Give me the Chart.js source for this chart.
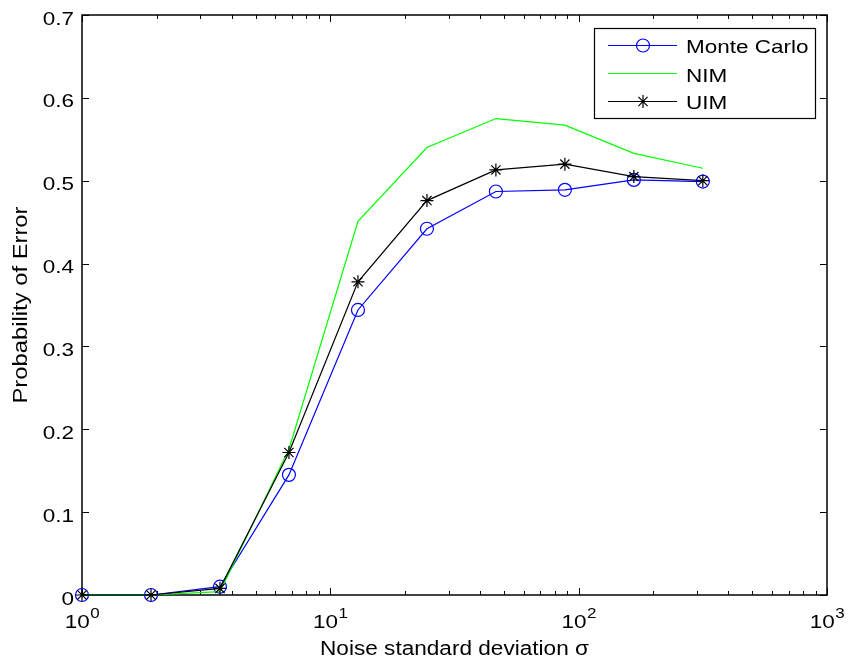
<!DOCTYPE html>
<html>
<head>
<meta charset="utf-8">
<title>Probability of Error vs noise</title>
<script src="https://cdn.jsdelivr.net/npm/chart.js@4/dist/chart.umd.min.js"></script>
<style>
  html, body { margin: 0; padding: 0; background: #fff; }
  #wrap { width: 848px; height: 665px; }
</style>
</head>
<body>
<div id="wrap"><canvas id="errChart" width="848" height="665"></canvas></div>
<script>
// noise levels (log spaced) and error probabilities per method
const sigma = [1, 1.896, 3.594, 6.813, 12.92, 24.49, 46.42, 88.01, 166.8, 316.2];
const monteCarlo = [0, 0, 0.010, 0.145, 0.344, 0.442, 0.487, 0.489, 0.501, 0.499];
const nim = [0, 0, 0.004, 0.176, 0.451, 0.540, 0.575, 0.567, 0.533, 0.515];
const uim = [0, 0, 0.008, 0.172, 0.378, 0.476, 0.513, 0.520, 0.505, 0.500];

const yTicks = [0, 0.1, 0.2, 0.3, 0.4, 0.5, 0.6, 0.7];
const yTickLabels = ['0', '0.1', '0.2', '0.3', '0.4', '0.5', '0.6', '0.7'];
const xDecades = [1, 10, 100, 1000];
const xExponents = ['0', '1', '2', '3'];

const FONT = '"Liberation Sans", Arial, Helvetica, sans-serif';

function toPoints(values) {
  return values.map((v, i) => ({ x: sigma[i], y: v }));
}

// text squashed vertically a bit, like the exported figure
function drawText(ctx, str, x, y, size, align, sy) {
  ctx.save();
  ctx.translate(x, y);
  ctx.scale(1, sy);
  ctx.font = size + 'px ' + FONT;
  ctx.textAlign = align;
  ctx.textBaseline = 'alphabetic';
  ctx.fillStyle = '#000';
  ctx.fillText(str, 0, 0);
  ctx.restore();
}

function drawCircleMarker(ctx, x, y, r, color) {
  ctx.beginPath();
  ctx.arc(x, y, r, 0, Math.PI * 2);
  ctx.strokeStyle = color;
  ctx.lineWidth = 1.2;
  ctx.stroke();
}

function drawStarMarker(ctx, x, y, r, color) {
  ctx.beginPath();
  const d = r * Math.SQRT1_2;
  ctx.moveTo(x - r, y); ctx.lineTo(x + r, y);
  ctx.moveTo(x, y - r); ctx.lineTo(x, y + r);
  ctx.moveTo(x - d, y - d); ctx.lineTo(x + d, y + d);
  ctx.moveTo(x - d, y + d); ctx.lineTo(x + d, y - d);
  ctx.strokeStyle = color;
  ctx.lineWidth = 1.2;
  ctx.stroke();
}

const axesPlugin = {
  id: 'matlabAxes',
  beforeDatasetsDraw(chart) {
    const { ctx, chartArea: a, scales } = chart;
    const xs = scales.x, ys = scales.y;
    ctx.save();
    ctx.strokeStyle = '#000';
    ctx.lineWidth = 1;

    // y ticks, left and right, pointing inwards
    ctx.beginPath();
    yTicks.forEach(t => {
      const py = Math.round(ys.getPixelForValue(t)) + 0.5;
      ctx.moveTo(a.left, py); ctx.lineTo(a.left + 7, py);
      ctx.moveTo(a.right, py); ctx.lineTo(a.right - 7, py);
    });
    // x major and minor ticks, bottom and top
    xDecades.forEach((d, i) => {
      const px = Math.round(xs.getPixelForValue(d)) + 0.5;
      ctx.moveTo(px, a.bottom); ctx.lineTo(px, a.bottom - 7);
      ctx.moveTo(px, a.top); ctx.lineTo(px, a.top + 7);
      if (i < xDecades.length - 1) {
        for (let m = 2; m <= 9; m++) {
          const mx = Math.round(xs.getPixelForValue(m * d)) + 0.5;
          ctx.moveTo(mx, a.bottom); ctx.lineTo(mx, a.bottom - 4);
          ctx.moveTo(mx, a.top); ctx.lineTo(mx, a.top + 4);
        }
      }
    });
    ctx.stroke();

    // box
    ctx.lineWidth = 1.5;
    ctx.strokeRect(a.left, a.top, a.right - a.left, a.bottom - a.top);

    // y tick labels
    yTicks.forEach((t, i) => {
      const py = ys.getPixelForValue(t);
      drawText(ctx, yTickLabels[i], 74, py + 9.5, 22.5, 'right', 0.82);
    });

    // x tick labels 10^n
    xDecades.forEach((d, i) => {
      const px = xs.getPixelForValue(d);
      ctx.font = '22.5px ' + FONT;
      const wBase = ctx.measureText('10').width;
      ctx.font = '17px ' + FONT;
      const wExp = ctx.measureText(xExponents[i]).width;
      const left = px - (wBase + wExp) / 2;
      drawText(ctx, '10', left, 628, 22.5, 'left', 0.82);
      drawText(ctx, xExponents[i], left + wBase + 0.5, 618, 17, 'left', 0.82);
    });

    // axis titles
    drawText(ctx, 'Noise standard deviation \u03c3', (a.left + a.right) / 2, 655, 22.6, 'center', 0.9);
    ctx.save();
    ctx.translate(27, (a.top + a.bottom) / 2);
    ctx.rotate(-Math.PI / 2);
    ctx.scale(1, 0.88);
    ctx.font = '23.8px ' + FONT;
    ctx.textAlign = 'center';
    ctx.textBaseline = 'alphabetic';
    ctx.fillStyle = '#000';
    ctx.fillText('Probability of Error', 0, 0);
    ctx.restore();

    ctx.restore();
  },
  afterDraw(chart) {
    const { ctx } = chart;
    ctx.save();
    // legend box
    ctx.fillStyle = '#fff';
    ctx.fillRect(594, 28, 221, 90);
    ctx.strokeStyle = '#000';
    ctx.lineWidth = 1.2;
    ctx.strokeRect(594.5, 28.5, 221, 90);

    const entries = [
      { label: 'Monte Carlo', color: '#0000ff', marker: 'circle', ly: 45.5, ty: 52.5 },
      { label: 'NIM', color: '#00ff00', marker: null, ly: 73.5, ty: 81.5 },
      { label: 'UIM', color: '#000000', marker: 'star', ly: 101.5, ty: 108.5 }
    ];
    entries.forEach(e => {
      ctx.beginPath();
      ctx.moveTo(608, e.ly); ctx.lineTo(677, e.ly);
      ctx.strokeStyle = e.color;
      ctx.lineWidth = 1.2;
      ctx.stroke();
      if (e.marker === 'circle') drawCircleMarker(ctx, 643, e.ly, 6.5, e.color);
      if (e.marker === 'star') drawStarMarker(ctx, 643, e.ly, 6.5, e.color);
      drawText(ctx, e.label, 686, e.ty, 22.5, 'left', 0.82);
    });
    ctx.restore();
  }
};

const ctx = document.getElementById('errChart').getContext('2d');
new Chart(ctx, {
  type: 'line',
  data: {
    datasets: [
      {
        label: 'Monte Carlo',
        data: toPoints(monteCarlo),
        borderColor: '#0000ff',
        borderWidth: 1.2,
        pointStyle: 'circle',
        pointRadius: 6.5,
        pointBorderWidth: 1.2,
        pointBorderColor: '#0000ff',
        pointBackgroundColor: 'rgba(0,0,0,0)',
        tension: 0,
        clip: false,
        order: 3
      },
      {
        label: 'NIM',
        data: toPoints(nim),
        borderColor: '#00ff00',
        borderWidth: 1.2,
        pointRadius: 0,
        tension: 0,
        clip: false,
        order: 2
      },
      {
        label: 'UIM',
        data: toPoints(uim),
        borderColor: '#000000',
        borderWidth: 1.2,
        pointStyle: 'star',
        pointRadius: 6.5,
        pointBorderWidth: 1.2,
        pointBorderColor: '#000000',
        pointBackgroundColor: 'rgba(0,0,0,0)',
        tension: 0,
        clip: false,
        order: 1
      }
    ]
  },
  options: {
    responsive: false,
    animation: false,
    events: [],
    layout: { padding: { left: 82, top: 15, right: 21, bottom: 70 } },
    scales: {
      x: { type: 'logarithmic', min: 1, max: 1000, display: false },
      y: { type: 'linear', min: 0, max: 0.7, display: false }
    },
    plugins: {
      legend: { display: false },
      tooltip: { enabled: false }
    }
  },
  plugins: [axesPlugin]
});
</script>
</body>
</html>
